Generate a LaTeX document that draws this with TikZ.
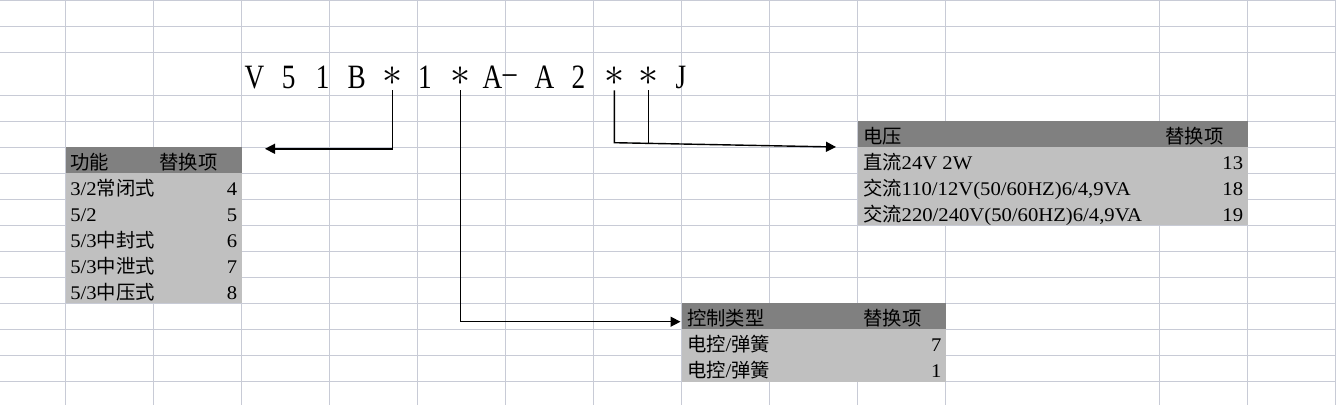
\documentclass[tikz,border=0pt]{standalone}
\usepackage{fontspec}
\setmainfont{Liberation Serif}[FakeStretch=1.07]
\newfontfamily\cjk{Noto Sans CJK SC}
\newfontfamily\codefont{Liberation Serif}[FakeStretch=0.8]
\usetikzlibrary{arrows.meta}
\definecolor{gridblue}{RGB}{200,203,214}
\definecolor{headgray}{RGB}{128,128,128}
\definecolor{bodygray}{RGB}{192,192,192}
\newcommand{\bigast}{\raisebox{1.8pt}{\scalebox{1.1}{$\ast$}}}
\tikzset{
	txt/.style={inner sep=0pt, anchor=base west, font=\fontsize{11}{13}\selectfont},
	val/.style={txt, anchor=base east},
	chr/.style={inner sep=0pt, anchor=base, text depth=1pt, font=\codefont\fontsize{19.4}{22}\selectfont},
	arr/.style={-{Triangle[length=0.2cm,width=0.2cm]}, line width=0.8pt}
}

\begin{document}
\begin{tikzpicture}[x=0.02cm,y=-0.02cm]
		\useasboundingbox (0,0) rectangle (1336,405);
		\foreach \x in {65.5,153.5,241.5,329.5,417.5,505.5,593.5,681.5,769.5,857.5,945.5,1159.5,1247.5,1335.5}
			\draw[gridblue, line width=0.6pt] (\x,0) -- (\x,405);
		\foreach \y in {0.5,26.5,52.5,95.5,121.5,147.5,173.5,199.5,225.5,251.5,277.5,303.5,329.5,355.5,381.5}
			\draw[gridblue, line width=0.6pt] (0,\y) -- (1336,\y);
		\fill[headgray] (65.5,147.5) rectangle (241.5,173.5);
		\fill[bodygray] (65.5,173.5) rectangle (241.5,303.5);
		\fill[headgray] (857.5,121.5) rectangle (1247.5,147.5);
		\fill[bodygray] (857.5,147.5) rectangle (1247.5,225.5);
		\fill[headgray] (681.5,303.5) rectangle (945.5,329.5);
		\fill[bodygray] (681.5,329.5) rectangle (945.5,381.5);
		\node[chr] (v) at (254.5,88.3) {V};
		\node[chr] (n5) at (288.6,88.3) {5};
		\node[chr] (n1) at (322.7,88.3) {1};
		\node[chr] (b) at (356.8,88.3) {B};
		\node[chr] (s1) at (392.5,88.3) {\bigast};
		\node[chr] (n1b) at (425,88.3) {1};
		\node[chr] (s2) at (460.5,88.3) {\bigast};
		\node[chr] (a) at (492.5,88.3) {A};
		\node[chr] (dash) at (509.7,88.3) {\raisebox{2.6pt}{–}};
		\node[chr] (a2) at (544.4,88.3) {A};
		\node[chr] (n2) at (578.5,88.3) {2};
		\node[chr] (s3) at (614.3,88.3) {\bigast};
		\node[chr] (s4) at (648.3,88.3) {\bigast};
		\node[chr] (j) at (680.8,88.3) {J};
		\coordinate(A) at (265,148.8);
		\draw[arr] (s1.south) |- (A);
		\coordinate(B) at (680.5,321.7);
		\draw[arr] (s2.south) |- (B);
		\coordinate(C) at (614.3,142.7);
		\coordinate(D) at (648.3,143.4);
		\coordinate(E) at (836,147);
		\draw[arr] (s3.south) -- (C) -- (E);
		\draw[-,line width=0.8pt] (s4.south) -- (D);
		\node[txt] (fn) at (70,169.8) {\cjk 功能};
		\node[txt] (fnrep) at (159,169.8) {\cjk 替换项};
		\node[txt] (fn1) at (70,195.8) {3/2{\cjk 常闭式}};
		\node[val] (fv1) at (237.5,195.8) {4};
		\node[txt] (fn2) at (70,221.8) {5/2};
		\node[val] (fv2) at (237.5,221.8) {5};
		\node[txt] (fn3) at (70,247.8) {5/3{\cjk 中封式}};
		\node[val] (fv3) at (237.5,247.8) {6};
		\node[txt] (fn4) at (70,273.8) {5/3{\cjk 中泄式}};
		\node[val] (fv4) at (237.5,273.8) {7};
		\node[txt] (fn5) at (70,299.8) {5/3{\cjk 中压式}};
		\node[val] (fv5) at (237.5,299.8) {8};
		\node[txt] (volt) at (862.7,143.8) {\cjk 电压};
		\node[txt] (voltrep) at (1165,143.8) {\cjk 替换项};
		\node[txt] (volt1) at (862.7,169.8) {{\cjk 直流}24V 2W};
		\node[val] (vv1) at (1243.5,169.8) {13};
		\node[txt] (volt2) at (862.7,195.8) {{\cjk 交流}110/12V(50/60HZ)6/4,9VA};
		\node[val] (vv2) at (1243.5,195.8) {18};
		\node[txt] (volt3) at (862.7,221.8) {{\cjk 交流}220/240V(50/60HZ)6/4,9VA};
		\node[val] (vv3) at (1243.5,221.8) {19};
		\node[txt] (ctl) at (686.7,325.8) {\cjk 控制类型};
		\node[txt] (ctlrep) at (863.3,325.8) {\cjk 替换项};
		\node[txt] (ctl1) at (686.7,351.8) {{\cjk 电控}/{\cjk 弹簧}};
		\node[val] (cv1) at (941.7,351.8) {7};
		\node[txt] (ctl2) at (686.7,377.8) {{\cjk 电控}/{\cjk 弹簧}};
		\node[val] (cv2) at (941.7,377.8) {1};
	\end{tikzpicture}
\end{document}
